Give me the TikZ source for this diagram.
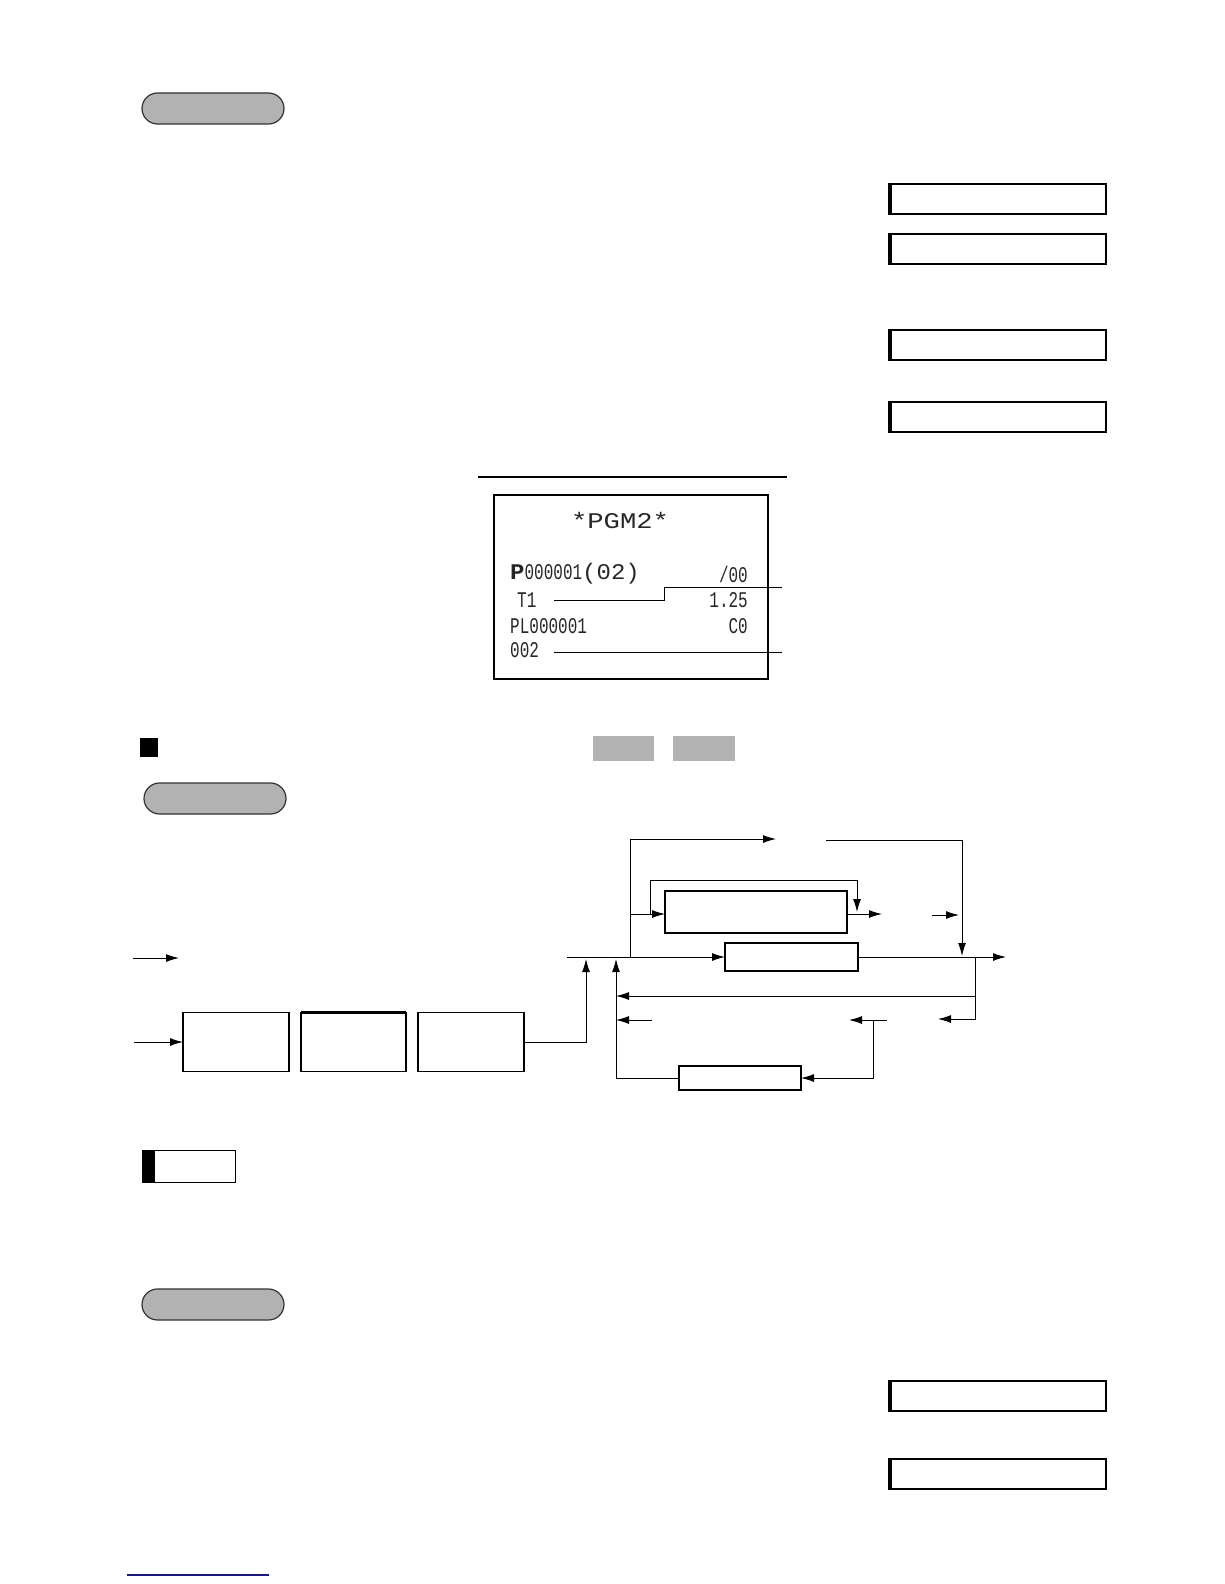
\documentclass[tikz,border=0pt]{standalone}
\usepackage{fontspec}
\usepackage{graphicx}
\usepackage{tikz}
\usetikzlibrary{arrows.meta}
\usetikzlibrary{positioning}
\newfontfamily\receiptfont{Liberation Mono}
\tikzset{pill/.style = {draw=black!80, fill=black!30, line width=1.2pt, rounded corners=15.5pt}}
\tikzset{box/.style = {draw, line width=1.1pt, inner sep=0, outer sep=0}}
\tikzset{flow/.style = {line width=1pt}}
\tikzset{arr/.style = {line width=1pt, -{Latex[length=13pt, width=8pt]}}}
\tikzset{rcpt/.style = {font=\receiptfont\fontsize{16}{16}\selectfont, text=black!85, inner sep=0}}
\newcommand{\tall}[2][1]{\scalebox{#1}[1.4]{#2}}
\definecolor{mnavy}{rgb}{0.1, 0.1, 0.5}

\begin{document}
\begin{tikzpicture}[x=1pt, y=-1pt]
      \useasboundingbox (0, 0) rectangle (1224, 1584);

      % section pills
      \foreach \x/\y in {142/93, 144/783, 142/1289} {
        \draw [pill] (\x, \y) rectangle ++(142, 31);
      }

      % display windows
      \foreach \y in {184, 234, 330, 402, 1381, 1459} {
        \draw [line width=1.2pt] (889, \y) rectangle ++(217, 30);
        \draw [line width=3pt] (890, \y) -- ++(0, 30);
      }

      % receipt
      \draw [line width=1.2pt] (478, 477) -- (787, 477);
      \node [box, minimum width=274, minimum height=184, anchor=north west] (receipt) at (494, 495) {};
      \node [rcpt] (title) at (620, 520) {\tall[1.7]{*PGM2*}};
      \node [rcpt, anchor=west] (plu) at (510, 574) {\tall[1.5]{\textbf{P}}\tall{000001}\tall[1.5]{(02)}};
      \node [rcpt, anchor=east] (code) at (748, 574) {\tall{/00}};
      \node [rcpt, anchor=west] (t1) at (517, 600) {\tall{T1}};
      \node [rcpt, anchor=east] (price) at (748, 600) {\tall{1.25}};
      \node [rcpt, anchor=west] (pl) at (510, 626) {\tall{PL000001}};
      \node [rcpt, anchor=east] (c0) at (748, 626) {\tall{C0}};
      \node [rcpt, anchor=west] (qty) at (510, 650) {\tall{002}};
      \coordinate (t1lead) at (554, 600);
      \coordinate (t1end) at (782, 587);
      \coordinate (qtylead) at (554, 652);
      \coordinate (qtyend) at (782, 652);
      \draw [flow] (t1lead) -| (664, 587) -- (t1end);
      \draw [flow] (qtylead) -- (qtyend);

      % heading marks
      \fill (140, 738) rectangle (158, 757);
      \fill [black!30] (593, 736) rectangle (654, 761);
      \fill [black!30] (673, 736) rectangle (735, 761);

      % key boxes
      \node [box, minimum width=106, minimum height=59] (keyA) at (236, 1042) {};
      \node [box, minimum width=105, minimum height=59, right=12pt of keyA] (keyB) {};
      \node [box, minimum width=106, minimum height=59, right=12pt of keyB] (keyC) {};
      \draw [line width=2.2pt] (keyB.north west) -- (keyB.north east);
      \node [box, minimum width=182, minimum height=42] (entry) at (756, 912) {};
      \draw [line width=2.2pt] (entry.north west) -- (entry.north east);
      \node [box, minimum width=133, minimum height=28] (main) at (791.5, 957) {};
      \node [box, minimum width=122, minimum height=24] (loopbox) at (740, 1078) {};

      \coordinate (in1) at (133, 958);
      \coordinate (in1end) at (179, 958);
      \coordinate (in2) at (134, 1042);
      \coordinate (start) at (567, 957);
      \coordinate (up1) at (586, 959);
      \coordinate (up2) at (616, 959);
      \coordinate (split) at (630, 957);
      \coordinate (branch) at (630, 914);
      \coordinate (loopin) at (650, 914);
      \coordinate (loopout) at (857, 912);
      \coordinate (skipto) at (776, 839);
      \coordinate (skipfrom) at (826, 840);
      \coordinate (merge) at (962, 956);
      \coordinate (skip2) at (932, 915);
      \coordinate (skip2end) at (959, 915);
      \coordinate (tap) at (975, 957);
      \coordinate (back) at (975, 996);
      \coordinate (tapend) at (938, 1019);
      \coordinate (out) at (1006, 957);
      \coordinate (ret1) at (652, 1020);
      \coordinate (ret2) at (887, 1020);
      \coordinate (ret2end) at (849, 1020);
      \coordinate (drop) at (873, 1020);

      \draw [arr] (in1) -- (in1end);
      \draw [arr] (in2) -- (keyA.west);
      \draw [arr] (keyC.east) -| (up1);
      \draw [arr] (start) -- (main.west);
      \draw [arr] (main.east) -- (out);
      \draw [arr] (split) |- (skipto);
      \draw [arr] (skipfrom) -| (merge);
      \draw [arr] (branch) -- (branch -| entry.west);
      \draw [arr] (loopin) -- ++(0, -34) -| (loopout);
      \draw [arr] (entry.east |- loopin) -- ++(35, 0);
      \draw [arr] (skip2) -- (skip2end);
      \draw [arr] (tap) |- (tapend);
      \draw [arr] (back) -- (back -| up2);
      \draw [arr] (ret1) -- (ret1 -| up2);
      \draw [arr] (ret2) -- (ret2end);
      \draw [arr] (drop) |- (loopbox.east);
      \draw [arr] (loopbox.west) -| (up2);

      % note tag
      \draw [line width=1pt] (142, 1150) rectangle (235, 1182);
      \fill (142, 1150) rectangle (155, 1182);

      \draw [mnavy, line width=1.3pt] (127, 1575) -- (269, 1575);
    \end{tikzpicture}
\end{document}
